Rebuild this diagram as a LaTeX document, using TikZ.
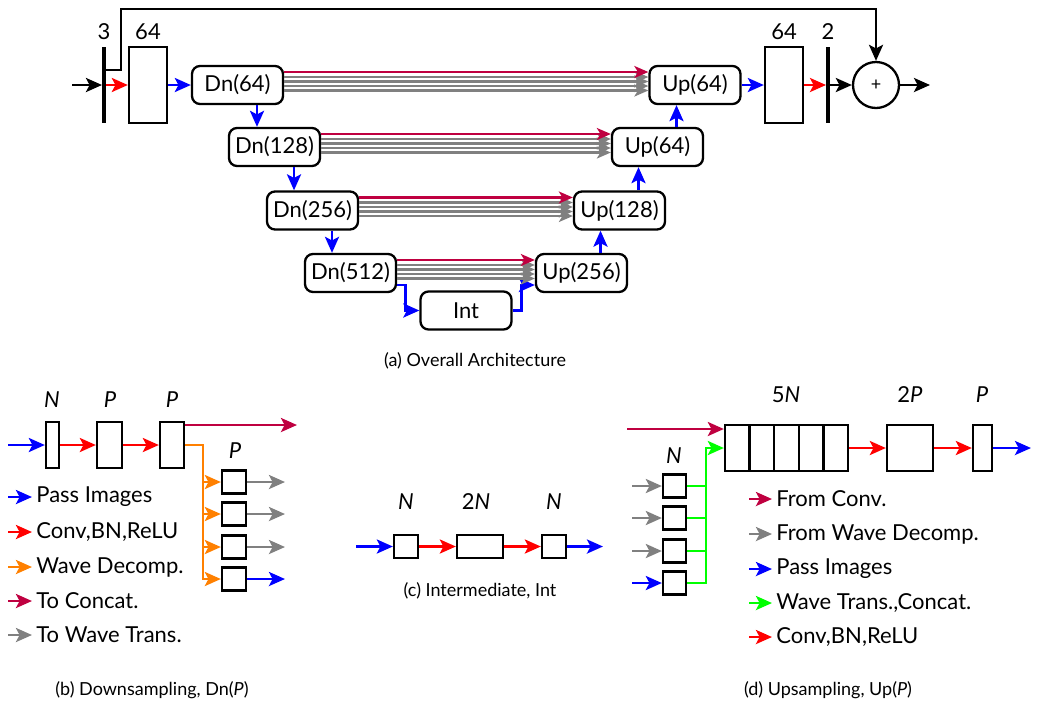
\documentclass[tikz,border=0pt]{standalone}
\usepackage{fontspec}
\setmainfont{Lato}
\usetikzlibrary{arrows.meta, positioning}

\begin{document}
\begin{tikzpicture}[
    x=0.5pt, y=-0.5pt,
    every node/.style={font=\fontsize{11}{13}\selectfont},
    blk/.style={draw, rounded corners=4pt, line width=1.15pt, minimum width=45.5pt, minimum height=19pt, inner sep=0pt},
    cell/.style={draw, line width=1.15pt, inner sep=0pt},
    bar/.style={fill=black, inner sep=0pt, minimum width=1.6pt, minimum height=38pt},
    lbl/.style={font=\fontsize{11}{13}\selectfont},
    leg/.style={anchor=west, inner sep=2pt},
    capt/.style={font=\fontsize{9}{11}\selectfont},
    arr/.style={line width=1.4pt, -{Stealth[length=8pt, width=7pt, inset=1.8pt]}},
    passarr/.style={arr, color=blue},
    convarr/.style={arr, color=red},
    decarr/.style={arr, color=orange},
    catarr/.style={arr, color=purple},
    wavarr/.style={arr, color=gray},
    joinarr/.style={arr, color=green},
    bundle/.style={line width=1.1pt, -{Stealth[length=7pt, width=6pt, inset=1.8pt]}}
]
\useasboundingbox (0,0) rectangle (1037,708);

% --- Overall architecture ---
\node[bar] (bin) at (104,85) {};
\node[lbl] (lin) at (104,32) {3};
\node[cell, minimum width=19pt, minimum height=38pt] (fin) at (148,85) {};
\node[lbl] (lfin) at (148,32) {64};
\node[blk] (d1) at (237.5,85) {Dn(64)};
\node[blk] (d2) at (274.5,147) {Dn(128)};
\node[blk] (d3) at (312.5,210.5) {Dn(256)};
\node[blk] (d4) at (350.5,273) {Dn(512)};
\node[blk] (mid) at (466,310.5) {Int};
\node[blk] (u4) at (581.5,273) {Up(256)};
\node[blk] (u3) at (619.5,210.5) {Up(128)};
\node[blk] (u2) at (657.5,147) {Up(64)};
\node[blk] (u1) at (695,85) {Up(64)};
\node[cell, minimum width=19pt, minimum height=38pt] (fout) at (784,85) {};
\node[lbl] (lfout) at (784,32) {64};
\node[bar] (bout) at (828,85) {};
\node[lbl] (lout) at (828,32) {2};
\node[circle, draw, line width=1.15pt, minimum size=23pt, inner sep=0pt, font=\fontsize{9}{11}\selectfont] (sum) at (876,85) {+};
\coordinate (xin) at (72,85);
\coordinate (xout) at (930,85);
\coordinate (skip) at (121,9);

\draw[arr] (xin) -- (bin.west);
\draw[convarr] (bin.east) -- (fin.west);
\draw[passarr] (fin.east) -- (d1.west);
\foreach \a/\b in {d1/d2, d2/d3, d3/d4}
    \draw[passarr] ([xshift=9.75pt]\a.south) -- ([xshift=9.75pt]\a.south |- \b.north);
\draw[passarr] ([yshift=-6pt]d4.east) -- ++(8,0) |- (mid.west);
\draw[passarr] (mid.east) -- ++(9,0) |- ([yshift=-6pt]u4.west);
\foreach \a/\b in {u4/u3, u3/u2, u2/u1}
    \draw[passarr] ([xshift=9.5pt]\a.north) -- ([xshift=9.5pt]\a.north |- \b.south);
\foreach \a/\b in {d1/u1, d2/u2, d3/u3, d4/u4} {
    \foreach \s in {4,1.75,-0.5,-2.75}
        \draw[bundle, gray] ([yshift=\s pt]\a.east) -- ([yshift=\s pt]\b.west);
    \draw[bundle, purple] ([yshift=6.5pt]\a.east) -- ([yshift=6.5pt]\b.west);
}
\draw[passarr] (u1.east) -- (fout.west);
\draw[convarr] (fout.east) -- (bout.west);
\draw[arr] (bout.east) -- (sum.west);
\draw[arr] (sum.east) -- (xout);
\draw[arr] ([yshift=7.5pt]bin.east) -| (skip) -| (sum.north);
\node[capt] (capa) at (475,361) {(a) Overall Architecture};

% --- Downsampling ---
\node[cell, minimum width=6.5pt, minimum height=23pt] (bn) at (52.5,445) {};
\node[cell, minimum width=12.5pt, minimum height=23pt] (bp1) at (109.5,445) {};
\node[cell, minimum width=12pt, minimum height=23pt] (bp2) at (172,445) {};
\node[lbl] (bln) at (52,400) {\textit{N}};
\node[lbl] (blp1) at (110,400) {\textit{P}};
\node[lbl] (blp2) at (172,400) {\textit{P}};
\node[lbl] (blp3) at (235,451) {\textit{P}};
\foreach \k/\y in {1/482, 2/514, 3/547, 4/579}
    \node[cell, minimum width=12pt, minimum height=11.5pt] (bw\k) at (234,\y) {};
\coordinate (bsrc) at (8,445);
\coordinate (bcat) at (297,425);
\coordinate (bsplit) at (203,445);
\coordinate (bend) at (285,0);
\draw[passarr] (bsrc) -- (bn.west);
\draw[convarr] (bn.east) -- (bp1.west);
\draw[convarr] (bp1.east) -- (bp2.west);
\draw[catarr] (bp2.east |- bcat) -- (bcat);
\draw[decarr] (bp2.east) -- (bsplit) |- (bw4.west);
\foreach \k in {1,2,3} {
    \draw[decarr] (bsplit |- bw\k) -- (bw\k.west);
    \draw[wavarr] (bw\k.east) -- (bw\k.east -| bend);
}
\draw[passarr] (bw4.east) -- (bw4.east -| bend);
\foreach \i/\y/\s/\t in {1/497/passarr/{Pass Images}, 2/532/convarr/{Conv,BN,ReLU}, 3/567/decarr/{Wave Decomp.}, 4/601/catarr/{To Concat.}, 5/635/wavarr/{To Wave Trans.}} {
    \node[leg] (bleg\i) at (32,\y) {\t};
    \draw[\s] ([xshift=-12pt]bleg\i.west) -- (bleg\i.west);
}
\node[capt] (capb) at (152,690) {(b) Downsampling, Dn(\textit{P})};

% --- Intermediate ---
\node[cell, minimum width=12pt, minimum height=11.5pt] (ia) at (406,546.5) {};
\node[cell, minimum width=23pt, minimum height=11.5pt] (ib) at (480,546.5) {};
\node[cell, minimum width=12pt, minimum height=11.5pt] (ic) at (554,546.5) {};
\node[lbl] (lia) at (406,502) {\textit{N}};
\node[lbl] (lib) at (476,502) {2\textit{N}};
\node[lbl] (lic) at (554,502) {\textit{N}};
\coordinate (isrc) at (356,546.5);
\coordinate (iend) at (603,546.5);
\draw[passarr] (isrc) -- (ia.west);
\draw[convarr] (ia.east) -- (ib.west);
\draw[convarr] (ib.east) -- (ic.west);
\draw[passarr] (ic.east) -- (iend);
\node[capt] (capc) at (480,591) {(c) Intermediate, Int};

% --- Upsampling ---
\foreach \k in {1,...,5}
    \node[cell, minimum width=12.3pt, minimum height=23pt] (uc\k) at ({712.7+24.6*\k},448) {};
\node[cell, minimum width=23pt, minimum height=23pt] (ut2) at (910,448) {};
\node[cell, minimum width=9.5pt, minimum height=23pt] (ut3) at (982.5,448) {};
\foreach \k/\y in {1/486, 2/518, 3/551, 4/583}
    \node[cell, minimum width=11.5pt, minimum height=11.5pt] (us\k) at (674.5,\y) {};
\node[lbl] (luc) at (786,395) {5\textit{N}};
\node[lbl] (lut2) at (910,395) {2\textit{P}};
\node[lbl] (lut3) at (982,395) {\textit{P}};
\node[lbl] (lus) at (674,456) {\textit{N}};
\coordinate (ucat) at (627,429);
\coordinate (ujoin) at (706,448);
\coordinate (usrc) at (632,0);
\coordinate (uend) at (1031,448);
\draw[catarr] (ucat) -- (ucat -| uc1.west);
\foreach \k in {1,2,3} {
    \draw[wavarr] (usrc |- us\k) -- (us\k.west);
    \draw[green, line width=1.4pt] (us\k.east) -- (us\k.east -| ujoin);
}
\draw[passarr] (usrc |- us4) -- (us4.west);
\draw[joinarr] (us4.east) -| (ujoin) -- (uc1.west);
\draw[convarr] (uc5.east) -- (ut2.west);
\draw[convarr] (ut2.east) -- (ut3.west);
\draw[passarr] (ut3.east) -- (uend);
\foreach \i/\y/\s/\t in {1/499/catarr/{From Conv.}, 2/534/wavarr/{From Wave Decomp.}, 3/569/passarr/{Pass Images}, 4/603/joinarr/{Wave Trans.,Concat.}, 5/637/convarr/{Conv,BN,ReLU}} {
    \node[leg] (uleg\i) at (772,\y) {\t};
    \draw[\s] ([xshift=-11.5pt]uleg\i.west) -- (uleg\i.west);
}
\node[capt] (capd) at (828,690) {(d) Upsampling, Up(\textit{P})};
\end{tikzpicture}
\end{document}
